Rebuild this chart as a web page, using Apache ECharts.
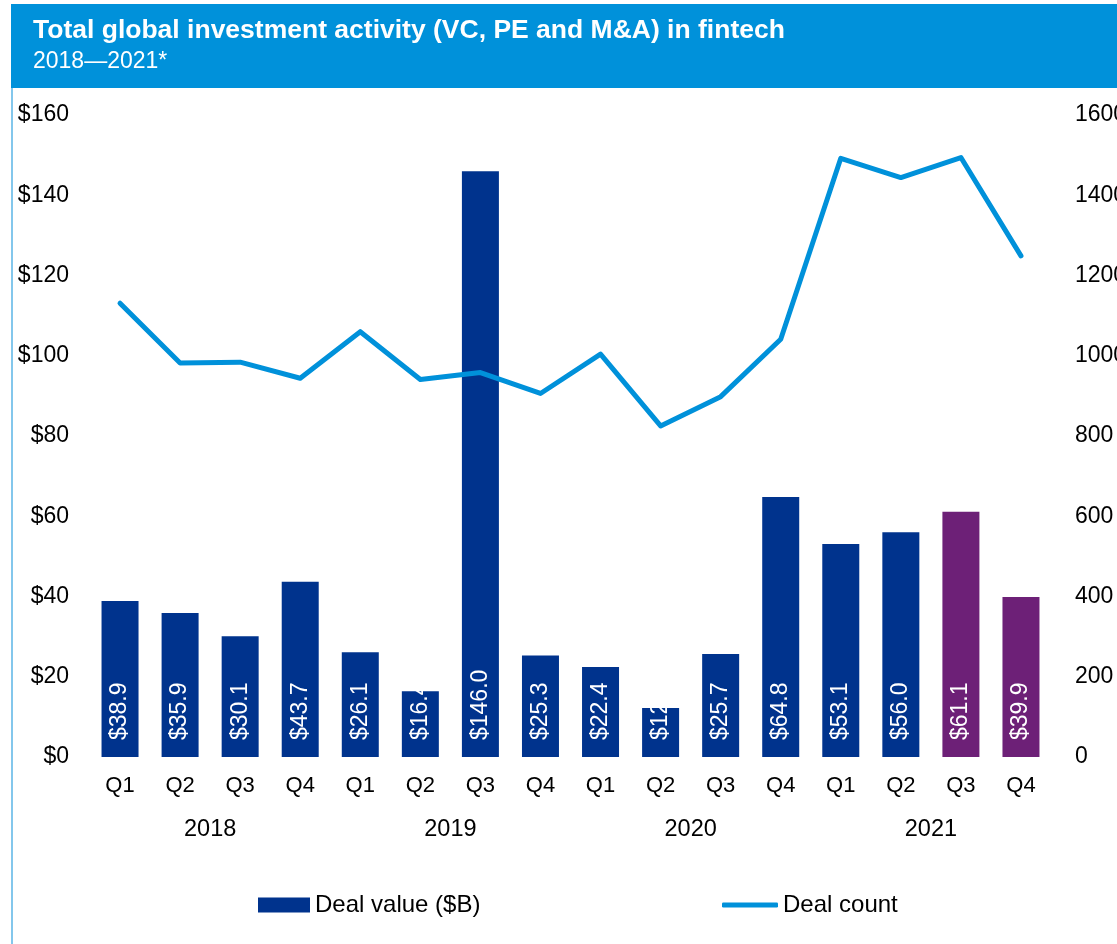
<!DOCTYPE html>
<html>
<head>
<meta charset="utf-8">
<script src="https://cdn.jsdelivr.net/npm/echarts@6/dist/echarts.min.js"></script>
<style>
html,body{margin:0;padding:0;background:#fff;overflow:hidden;}
#chart{width:1117px;height:944px;}
</style>
</head>
<body>
<div id="chart"></div>
<script>
const quarters = ['Q1','Q2','Q3','Q4','Q1','Q2','Q3','Q4','Q1','Q2','Q3','Q4','Q1','Q2','Q3','Q4'];
const years = ['2018','2019','2020','2021'];
const dealValue = [38.9, 35.9, 30.1, 43.7, 26.1, 16.4, 146.0, 25.3, 22.4, 12.2, 25.7, 64.8, 53.1, 56.0, 61.1, 39.9];
const dealCount = [1131, 982, 984, 944, 1060, 941, 958, 906, 1004, 825, 898, 1041, 1492, 1444, 1494, 1249];
const leftTicks = {min: 0, max: 160, interval: 20};
const rightTicks = {min: 0, max: 1600, interval: 200};
const projectedFrom = 14;

const FONT = '"Liberation Sans", Arial, sans-serif';
const DARK = '#00338D';
const PURPLE = '#6D2077';
const MID = '#0091DA';

const chart = echarts.init(document.getElementById('chart'));
chart.setOption({
  backgroundColor: '#fff',
  animation: false,
  textStyle: {fontFamily: FONT, color: '#000'},
  graphic: [
    {type: 'rect', shape: {x: 11, y: 4, width: 1106, height: 84}, style: {fill: MID}, z: 0},
    {type: 'line', shape: {x1: 12, y1: 88, x2: 12, y2: 944}, style: {stroke: '#5AB4E6', lineWidth: 1.5}, z: 0}
  ],
  title: {
    text: 'Total global investment activity (VC, PE and M&A) in fintech',
    subtext: '2018\u20142021*',
    left: 33, top: 17, padding: 0, itemGap: 6,
    textStyle: {color: '#fff', fontSize: 26.5, fontWeight: 'bold', fontFamily: FONT},
    subtextStyle: {color: '#fff', fontSize: 23, fontFamily: FONT}
  },
  legend: [
    {
      data: [{name: 'Deal value ($B)', icon: 'rect'}],
      left: 258, top: 893, padding: 0, itemWidth: 52, itemHeight: 15,
      textStyle: {fontSize: 24, color: '#000', fontFamily: FONT}
    },
    {
      data: [{name: 'Deal count', icon: 'roundRect'}],
      left: 722, top: 893, padding: 0, itemWidth: 56, itemHeight: 5,
      textStyle: {fontSize: 24, color: '#000', fontFamily: FONT}
    }
  ],
  grid: {left: 90, right: 66, top: 115, bottom: 187, containLabel: false, outerBoundsMode: 'none'},
  xAxis: [
    {
      type: 'category', data: quarters, position: 'bottom',
      axisLine: {show: false}, axisTick: {show: false},
      axisLabel: {fontSize: 22, color: '#000', margin: 18, fontFamily: FONT, interval: 0}
    },
    {
      type: 'category', data: years, position: 'bottom', offset: 43,
      axisLine: {show: false}, axisTick: {show: false},
      axisLabel: {fontSize: 23.5, color: '#000', margin: 18, fontFamily: FONT, interval: 0}
    }
  ],
  yAxis: [
    {
      type: 'value', min: leftTicks.min, max: leftTicks.max, interval: leftTicks.interval,
      axisLine: {show: false}, axisTick: {show: false}, splitLine: {show: false},
      axisLabel: {formatter: '${value}', fontSize: 23, color: '#000', margin: 21, fontFamily: FONT}
    },
    {
      type: 'value', min: rightTicks.min, max: rightTicks.max, interval: rightTicks.interval,
      position: 'right',
      axisLine: {show: false}, axisTick: {show: false}, splitLine: {show: false},
      axisLabel: {formatter: v => String(v), fontSize: 23, color: '#000', margin: 24, fontFamily: FONT}
    }
  ],
  series: [
    {
      name: 'Deal value ($B)', type: 'bar', xAxisIndex: 0, yAxisIndex: 0,
      barWidth: 37,
      itemStyle: {color: DARK},
      data: dealValue.map((v, i) => i >= projectedFrom ? {value: v, itemStyle: {color: PURPLE}} : v),
      label: {
        show: true, position: 'insideBottom', rotate: 90, align: 'left', verticalAlign: 'middle',
        distance: 17, color: '#fff', fontSize: 23, fontFamily: FONT,
        formatter: p => '$' + Number(p.value).toFixed(1)
      },
      z: 2
    },
    {
      name: 'Deal count', type: 'line', xAxisIndex: 0, yAxisIndex: 1,
      data: dealCount, symbol: 'none', showSymbol: false,
      lineStyle: {color: MID, width: 5, cap: 'round', join: 'round'},
      itemStyle: {color: MID},
      z: 3
    }
  ]
});
</script>
</body>
</html>
